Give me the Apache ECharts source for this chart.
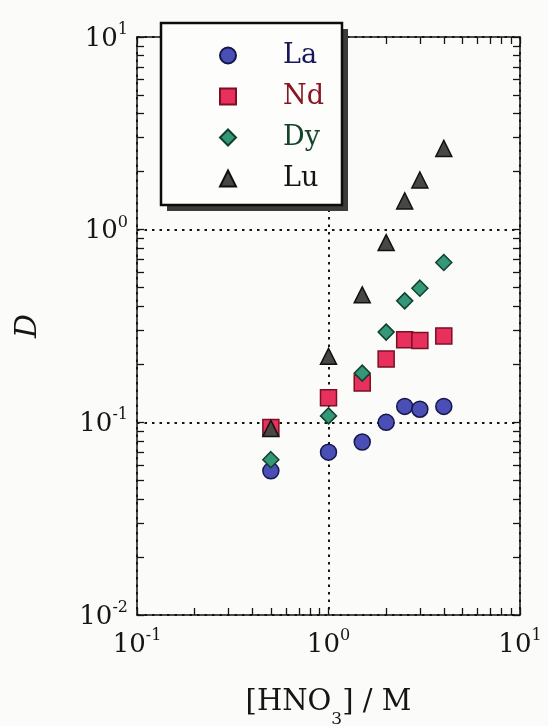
<!DOCTYPE html>
<html>
<head>
<meta charset="utf-8">
<script src="https://cdn.jsdelivr.net/npm/echarts@6/dist/echarts.min.js"></script>
<style>
  html, body { margin: 0; padding: 0; background: #fbfbfa; }
  #chart { width: 548px; height: 726px; }
</style>
</head>
<body>
<div id="chart"></div>
<script>
// Distribution ratio D versus nitric acid concentration
const hno3 = [0.5, 1, 1.5, 2, 2.5, 3, 4];
const dLa = [0.056, 0.070, 0.079, 0.100, 0.121, 0.117, 0.121];
const dNd = [0.094, 0.134, 0.160, 0.213, 0.268, 0.266, 0.281];
const dDy = [0.064, 0.108, 0.180, 0.294, 0.427, 0.497, 0.675];
const dLu = [0.093, 0.220, 0.459, 0.857, 1.41, 1.81, 2.64];

const seriesNames = ['La', 'Nd', 'Dy', 'Lu'];
const seriesSymbols = ['circle', 'rect', 'diamond', 'triangle'];
const seriesFill = ['#4a4fb5', '#e8305e', '#35977a', '#474745'];
const seriesEdge = ['#15164a', '#7a1020', '#10402a', '#111111'];
const legendText = ['#16185a', '#8a1522', '#17452a', '#141414'];
const seriesValues = [dLa, dNd, dDy, dLu];

// tick marks at 1..9 x 10^n on both log axes
const xTickValues = [0.1,0.2,0.3,0.4,0.5,0.6,0.7,0.8,0.9,1,2,3,4,5,6,7,8,9,10];
const yTickValues = [0.01,0.02,0.03,0.04,0.05,0.06,0.07,0.08,0.09,
                     0.1,0.2,0.3,0.4,0.5,0.6,0.7,0.8,0.9,1,2,3,4,5,6,7,8,9,10];

const FONT = 'DejaVu Serif';
const INK = '#151515';

function powLabel(v) {
  const e = Math.round(Math.log10(v));
  return '{b|10}{s|' + (e < 0 ? '-' + (-e) : e) + '}';
}
const powRich = {
  b: { fontFamily: FONT, fontSize: 26, lineHeight: 30, color: INK, verticalAlign: 'bottom' },
  s: { fontFamily: FONT, fontSize: 16, lineHeight: 16, color: INK, verticalAlign: 'top' }
};

function logAxis(opts) {
  return Object.assign({
    type: 'log',
    logBase: 10,
    axisLine: { show: true, onZero: false, lineStyle: { color: INK, width: 1.5 } },
    minorTick: { show: false },
    splitLine: { show: false }
  }, opts);
}
function ticks(values) {
  return { show: true, inside: true, length: 7, customValues: values, lineStyle: { color: INK, width: 1.3 } };
}

// dotted grid only at the decades: one dark line every nine ticks
const NONE = 'rgba(0,0,0,0)';
const gridDots = {
  show: true,
  lineStyle: { color: [INK, NONE, NONE, NONE, NONE, NONE, NONE, NONE, NONE], width: 2, type: [2.5, 5] }
};

const chart = echarts.init(document.getElementById('chart'), null, { renderer: 'canvas' });

chart.setOption({
  backgroundColor: '#fbfbfa',
  animation: false,
  grid: { left: 137, top: 37, width: 383, height: 578, containLabel: false, outerBoundsMode: 'none' },
  xAxis: [
    logAxis({
      min: 0.1, max: 10, position: 'bottom',
      axisTick: ticks(xTickValues),
      splitLine: gridDots,
      axisLabel: { show: true, margin: 13, formatter: powLabel, rich: powRich },
      name: '{t|[HNO}{u|3}{t|] / M}',
      nameLocation: 'middle',
      nameGap: 73,
      nameTextStyle: {
        rich: {
          t: { fontFamily: FONT, fontSize: 29, lineHeight: 30, color: INK, verticalAlign: 'top' },
          u: { fontFamily: FONT, fontSize: 17, lineHeight: 17, color: INK, verticalAlign: 'top', padding: [23, 0, 0, 0] }
        }
      }
    }),
    logAxis({
      min: 0.1, max: 10, position: 'top',
      axisTick: ticks(xTickValues),
      axisLabel: { show: false }
    })
  ],
  yAxis: [
    logAxis({
      min: 0.01, max: 10, position: 'left',
      axisTick: ticks(yTickValues),
      splitLine: gridDots,
      axisLabel: { show: true, margin: 9, formatter: powLabel, rich: powRich },
      name: 'D',
      nameLocation: 'middle',
      nameGap: 94,
      nameTextStyle: { fontFamily: FONT, fontStyle: 'italic', fontSize: 30, color: INK }
    }),
    logAxis({
      min: 0.01, max: 10, position: 'right',
      axisTick: ticks(yTickValues),
      axisLabel: { show: false }
    })
  ],
  graphic: [
    // legend frame with its drop shadow
    { type: 'rect', z: 10, shape: { x: 167, y: 29, width: 181, height: 182 },
      style: { fill: '#3c3c3a' } },
    { type: 'rect', z: 11, shape: { x: 161, y: 23, width: 181, height: 182 },
      style: { fill: '#fdfdfc', stroke: '#0d0d0d', lineWidth: 2.5 } }
  ],
  legend: {
    z: 20,
    orient: 'vertical',
    left: 219,
    top: 42,
    padding: 0,
    itemWidth: 16,
    itemHeight: 16,
    itemGap: 14,
    selectedMode: false,
    textStyle: { fontFamily: FONT, fontSize: 27, lineHeight: 16, padding: [0, 0, 0, 42] },
    data: seriesNames.map((n, i) => ({ name: n, textStyle: { color: legendText[i] } }))
  },
  series: seriesNames.map((n, i) => ({
    name: n,
    type: 'scatter',
    xAxisIndex: 0,
    yAxisIndex: 0,
    symbol: seriesSymbols[i],
    symbolSize: 16,
    itemStyle: { color: seriesFill[i], borderColor: seriesEdge[i], borderWidth: 1.5, opacity: 1 },
    emphasis: { disabled: true },
    data: hno3.map((x, k) => [x, seriesValues[i][k]])
  }))
});
</script>
</body>
</html>
